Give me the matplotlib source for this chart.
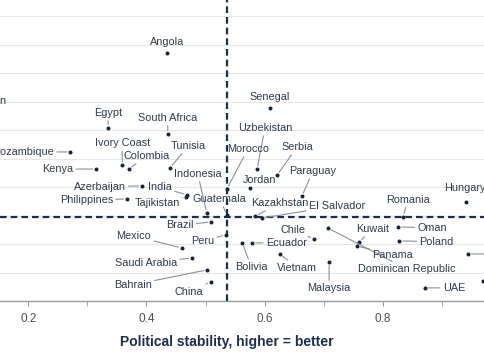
import matplotlib.pyplot as plt

plt.rcParams['font.family'] = ['Liberation Sans', 'DejaVu Sans']

# countries, political stability (x) and the second score (y, grid units)
countries = ['Pakistan', 'Angola', 'Senegal', 'Egypt', 'South Africa', 'Mozambique',
             'Ivory Coast', 'Colombia', 'Kenya', 'Tunisia', 'Uzbekistan', 'Serbia',
             'Morocco', 'Jordan', 'Indonesia', 'Azerbaijan', 'India', 'Philippines',
             'Tajikistan', 'Paraguay', 'Guatemala', 'Kazakhstan', 'El Salvador',
             'Hungary', 'Romania', 'Brazil', 'Peru', 'Mexico', 'Saudi Arabia',
             'Bahrain', 'China', 'Bolivia', 'Ecuador', 'Vietnam', 'Chile',
             'Dominican Republic', 'Malaysia', 'Kuwait', 'Panama', 'Oman', 'Poland',
             'UAE', 'Czech Republic', 'Qatar']
stability = [0.127, 0.435, 0.609, 0.335, 0.436, 0.271,
             0.359, 0.370, 0.315, 0.440, 0.587, 0.621,
             0.536, 0.575, 0.502, 0.392, 0.469, 0.367,
             0.467, 0.663, 0.536, 0.584, 0.595,
             0.941, 0.834, 0.509, 0.534, 0.460, 0.477,
             0.502, 0.509, 0.562, 0.579, 0.626, 0.683,
             0.707, 0.709, 0.760, 0.756, 0.826, 0.828,
             0.871, 0.944, 0.969]
score = [6.63, 8.70, 6.77, 6.07, 5.86, 5.23,
         4.77, 4.63, 4.63, 4.67, 4.63, 4.42,
         3.93, 3.96, 3.09, 4.04, 3.72, 3.58,
         3.65, 3.68, 3.02, 2.98, 2.91,
         3.47, 2.95, 2.77, 2.32, 1.86, 1.51,
         1.09, 0.67, 2.04, 2.04, 1.65, 2.18,
         2.56, 1.37, 2.07, 1.93, 2.60, 2.11,
         0.46, 1.65, 0.70]

x_mean = 0.536
y_mean = 2.95

# label placement: offset in pixels from the point, alignment, leader line
label_pos = {
    'Pakistan': (0, 11, 'center', False),
    'Angola': (0, 11, 'center', False),
    'Senegal': (0, 11, 'center', False),
    'Egypt': (0, 15, 'center', True),
    'South Africa': (0, 16, 'center', True),
    'Mozambique': (-16, 0, 'right', True),
    'Ivory Coast': (0, 22, 'center', True),
    'Colombia': (18, 13, 'center', True),
    'Kenya': (-23, 0, 'right', True),
    'Tunisia': (18, 22, 'center', True),
    'Uzbekistan': (8, 41, 'center', True),
    'Serbia': (20, 28, 'center', True),
    'Morocco': (21, 40, 'center', True),
    'Jordan': (10, 8, 'center', False),
    'Indonesia': (-9, 39, 'center', True),
    'Azerbaijan': (-16, -1, 'right', True),
    'India': (-27, 8, 'center', True),
    'Philippines': (-14, -1, 'right', True),
    'Tajikistan': (-29, -6, 'center', True),
    'Paraguay': (11, 25, 'center', True),
    'Guatemala': (-7, 16, 'center', True),
    'Kazakhstan': (25, 13, 'center', True),
    'El Salvador': (75, 12, 'center', True),
    'Hungary': (-1, 14, 'center', False),
    'Romania': (5, 17, 'center', True),
    'Brazil': (-31, -3, 'center', True),
    'Peru': (-23, -6, 'center', True),
    'Mexico': (-48, 12, 'center', True),
    'Saudi Arabia': (-46, -5, 'center', True),
    'Bahrain': (-74, -15, 'center', True),
    'China': (-22, -10, 'center', True),
    'Bolivia': (9, -24, 'center', True),
    'Ecuador': (34, 0, 'center', True),
    'Vietnam': (17, -14, 'center', True),
    'Chile': (-21, 9, 'center', True),
    'Dominican Republic': (79, -41, 'center', True),
    'Malaysia': (0, -26, 'center', True),
    'Kuwait': (13, 13, 'center', True),
    'Panama': (36, -9, 'center', True),
    'Oman': (34, -1, 'center', True),
    'Poland': (37, -1, 'center', True),
    'UAE': (29, 0, 'center', True),
    'Czech Republic': (24, 0, 'left', True),
    'Qatar': (26, 0, 'left', True),
}

text_color = '#2f3a4a'
navy = '#1c2d4f'

fig = plt.figure(figsize=(4.85, 3.6), dpi=100)
ax = fig.add_axes([0, 1 - 301 / 360, 1, 301 / 360])

ax.set_xlim(0.1521, 0.9728)
ax.set_ylim(0, 301 / 28.5)

ax.scatter(stability, score, s=3.5, color='#1a2233', zorder=4, clip_on=True)

for name, x, y in zip(countries, stability, score):
    dx, dy, ha, leader = label_pos[name]
    arrow = None
    if leader:
        arrow = dict(arrowstyle='-', color='#8a8f98', lw=0.8,
                     shrinkA=0, shrinkB=2.5)
    ax.annotate(name, (x, y), xytext=(dx, dy), textcoords='offset pixels',
                ha=ha, va='center', fontsize=7.8, color=text_color,
                arrowprops=arrow, annotation_clip=False, zorder=5)

# quadrant lines
ax.axvline(x_mean, color=navy, lw=1.6, dashes=(3, 1.8), zorder=3)
ax.axhline(y_mean, color=navy, lw=1.6, dashes=(3, 1.8), zorder=3)

ax.set_yticks(range(1, 11))
ax.set_yticklabels([])
ax.tick_params(axis='y', length=0)
ax.grid(axis='y', color='#e6e6e6', lw=0.8)
ax.set_axisbelow(True)

ax.set_xticks([0.2, 0.4, 0.6, 0.8])
ax.set_xticklabels(['0.2', '0.4', '0.6', '0.8'])
ax.set_xticks([0.3, 0.5, 0.7, 0.9], minor=True)
ax.tick_params(axis='x', which='both', length=3.5, color='#9a9a9a',
               labelsize=8.5, labelcolor='#505050', pad=5)

for side in ['left', 'right', 'top']:
    ax.spines[side].set_visible(False)
ax.spines['bottom'].set_color('#9a9a9a')
ax.spines['bottom'].set_linewidth(1)

fig.text(227 / 485, 1 - 342 / 360, 'Political stability, higher = better',
         ha='center', va='center', fontsize=10, fontweight='bold', color='#1f2d4a')

fig.savefig('out.png', dpi=100)
